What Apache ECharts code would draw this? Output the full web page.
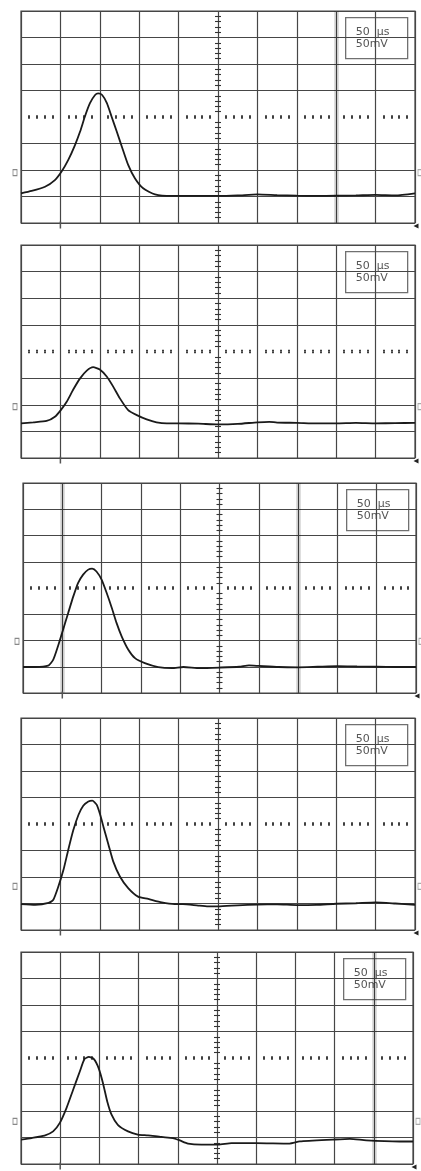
<!DOCTYPE html>
<html><head><meta charset="utf-8">
<script src="https://cdn.jsdelivr.net/npm/echarts@6/dist/echarts.min.js"></script>
<style>html,body{margin:0;padding:0;background:#fff}#c{width:421px;height:1171px}</style>
</head><body><div id="c"></div>
<script>
// ---- labels ----
const timeLabel = '50  µs';
const voltLabel = '50mV';

// ---- traces (x, y in screen divisions; 0 = graticule centre) ----
const trace1X = [-5, -4.73, -4.39, -4.14, -3.97, -3.80, -3.63, -3.50, -3.38, -3.25, -3.12, -3.04, -2.94, -2.82, -2.70, -2.57, -2.44, -2.28, -2.11, -1.90, -1.60, -1.18, -0.88, -0.5, 0, 0.5, 1.0, 1.5, 2.0, 2.5, 3.0, 3.5, 4.0, 4.5, 5.0];
const trace1Y = [-2.88, -2.79, -2.63, -2.38, -2.06, -1.62, -1.06, -0.55, 0.01, 0.52, 0.83, 0.89, 0.83, 0.52, 0.01, -0.55, -1.12, -1.81, -2.31, -2.69, -2.92, -2.98, -2.98, -2.98, -2.98, -2.96, -2.92, -2.95, -2.97, -2.98, -2.97, -2.96, -2.94, -2.96, -2.88];

const trace2X = [-5, -4.69, -4.35, -4.14, -3.99, -3.84, -3.67, -3.50, -3.33, -3.17, -3.0, -2.82, -2.66, -2.49, -2.28, -2.06, -1.81, -1.56, -1.30, -1.0, -0.5, 0, 0.5, 1.0, 1.3, 1.5, 2.0, 2.5, 3.0, 3.5, 4.0, 4.5, 5.0];
const trace2Y = [-2.70, -2.66, -2.61, -2.45, -2.20, -1.89, -1.42, -1.01, -0.72, -0.59, -0.68, -0.95, -1.32, -1.76, -2.20, -2.39, -2.55, -2.66, -2.70, -2.70, -2.71, -2.74, -2.72, -2.66, -2.64, -2.67, -2.68, -2.70, -2.70, -2.68, -2.70, -2.69, -2.68];

const trace3X = [-5, -4.70, -4.36, -4.23, -4.11, -3.98, -3.85, -3.72, -3.60, -3.47, -3.34, -3.24, -3.13, -3.0, -2.87, -2.74, -2.62, -2.49, -2.32, -2.15, -1.90, -1.56, -1.21, -0.92, -0.5, 0, 0.5, 0.75, 1.0, 1.5, 2.0, 2.5, 3.0, 3.5, 4.0, 4.5, 5.0];
const trace3Y = [-3.01, -3.01, -2.96, -2.73, -2.22, -1.59, -0.95, -0.32, 0.19, 0.51, 0.70, 0.74, 0.63, 0.32, -0.19, -0.76, -1.33, -1.84, -2.35, -2.67, -2.86, -3.01, -3.05, -3.01, -3.05, -3.03, -3.0, -2.95, -2.97, -3.01, -3.02, -3.0, -2.98, -2.99, -3.0, -3.01, -3.01];

const trace4X = [-5, -4.64, -4.30, -4.18, -4.05, -3.92, -3.80, -3.67, -3.54, -3.42, -3.29, -3.19, -3.08, -2.99, -2.91, -2.78, -2.66, -2.49, -2.28, -2.03, -1.77, -1.43, -1.10, -0.89, -0.5, -0.25, 0, 0.5, 1.0, 1.5, 2.0, 2.5, 3.0, 3.5, 4.0, 4.5, 5.0];
const trace4Y = [-3.02, -3.05, -2.98, -2.86, -2.35, -1.72, -0.97, -0.22, 0.35, 0.69, 0.85, 0.88, 0.73, 0.35, -0.09, -0.78, -1.41, -1.98, -2.42, -2.74, -2.83, -2.96, -3.02, -3.02, -3.08, -3.11, -3.11, -3.07, -3.04, -3.03, -3.06, -3.05, -3.01, -2.99, -2.96, -3.0, -3.05];

const trace5X = [-5, -4.73, -4.40, -4.18, -4.01, -3.84, -3.67, -3.50, -3.38, -3.27, -3.14, -3.02, -2.91, -2.80, -2.69, -2.53, -2.27, -2.02, -1.76, -1.42, -1.12, -0.95, -0.74, -0.40, 0.03, 0.37, 1.0, 1.85, 2.11, 2.95, 3.39, 3.81, 4.66, 5.0];
const trace5Y = [-3.08, -3.02, -2.93, -2.77, -2.45, -1.89, -1.20, -0.51, -0.04, 0.04, -0.04, -0.38, -0.94, -1.64, -2.14, -2.52, -2.77, -2.89, -2.92, -2.98, -3.02, -3.11, -3.23, -3.27, -3.27, -3.21, -3.21, -3.23, -3.15, -3.08, -3.05, -3.11, -3.15, -3.15];

// ---- graticule extras ----
const xRange = [-5, 5];
const yRange = [-4, 4];
const bandX = [[3], [], [-4, 2], [], [4]];          // faint scan bands on gridlines
const groundY = [-2.1, -2.07, -2.03, -2.35, -2.39];  // channel ground markers
const triggerX = -4;

const traces = [[trace1X, trace1Y], [trace2X, trace2Y], [trace3X, trace3Y], [trace4X, trace4Y], [trace5X, trace5Y]];

const panels = [
  {left: 21, top: 11, width: 394, height: 212},
  {left: 21, top: 245, width: 394, height: 213},
  {left: 23, top: 483, width: 393, height: 210},
  {left: 21, top: 718, width: 394, height: 212},
  {left: 21, top: 952, width: 392, height: 212}
];

const GRID = '#464646';
const grids = [], xAxes = [], yAxes = [], series = [], graphics = [];

panels.forEach((p, i) => {
  grids.push({left: p.left, top: p.top, width: p.width, height: p.height,
    show: true, borderColor: GRID, borderWidth: 1.2, backgroundColor: '#fff'});
  const base = {type: 'value', gridIndex: i, interval: 1, axisLabel: {show: false}};
  // main x
  xAxes.push(Object.assign({}, base, {min: xRange[0], max: xRange[1],
    axisLine: {show: false, onZero: false}, axisTick: {show: false},
    splitLine: {show: true, lineStyle: {color: GRID, width: 1.2}}}));
  // centre-line minor ticks (both sides)
  [false, true].forEach(inside => {
    xAxes.push(Object.assign({}, base, {min: xRange[0], max: xRange[1],
      axisLine: {show: true, onZero: true, onZeroAxisIndex: 3 * i, lineStyle: {color: 'rgba(0,0,0,0)'}},
      axisTick: {show: false, inside: inside},
      minorTick: {show: true, splitNumber: 5, length: 1.8, lineStyle: {color: '#2a2a2a', width: 1.8}},
      splitLine: {show: false}}));
  });
  const yColors = [GRID, GRID, GRID, GRID, 'rgba(0,0,0,0)', GRID, GRID, GRID, GRID];
  yAxes.push(Object.assign({}, base, {min: yRange[0], max: yRange[1],
    axisLine: {show: false, onZero: false}, axisTick: {show: false},
    splitLine: {show: true, lineStyle: {color: yColors, width: 1.2}}}));
  [false, true].forEach(inside => {
    yAxes.push(Object.assign({}, base, {min: yRange[0], max: yRange[1],
      axisLine: {show: true, onZero: true, onZeroAxisIndex: 3 * i, lineStyle: {color: 'rgba(0,0,0,0)'}},
      axisTick: {show: false, inside: inside},
      minorTick: {show: true, splitNumber: 5, length: 3, lineStyle: {color: '#333', width: 1.1}},
      splitLine: {show: false}}));
  });

  const tx = traces[i][0], ty = traces[i][1];
  series.push({
    type: 'line', xAxisIndex: 3 * i, yAxisIndex: 3 * i,
    data: tx.map((x, k) => [x, ty[k]]),
    showSymbol: false, smooth: 0.2, silent: true,
    lineStyle: {color: '#1a1a1a', width: 1.8},
    markLine: {silent: true, symbol: 'none', label: {show: false},
      lineStyle: {color: 'rgba(0,0,0,0.13)', width: 5, type: 'solid'},
      data: bandX[i].map(v => ({xAxis: v}))},
    markPoint: {silent: true, label: {show: false},
      data: [
        {coord: [xRange[0], groundY[i]], symbol: 'rect', symbolSize: [4, 6], symbolOffset: [-6, 0],
          itemStyle: {color: 'rgba(0,0,0,0)', borderColor: '#888', borderWidth: 1}},
        {coord: [xRange[1], groundY[i]], symbol: 'rect', symbolSize: [4, 6], symbolOffset: [5, 0],
          itemStyle: {color: 'rgba(0,0,0,0)', borderColor: '#aaa', borderWidth: 1}},
        {coord: [triggerX, yRange[0]], symbol: 'rect', symbolSize: [1.5, 7], symbolOffset: [0, 2],
          itemStyle: {color: '#555'}},
        {coord: [xRange[1], yRange[0]], symbol: 'triangle', symbolSize: 5, symbolRotate: 90, symbolOffset: [1, 3],
          itemStyle: {color: '#222'}}
      ]}
  });

  graphics.push({
    type: 'group', left: p.left + p.width - 70, top: p.top + 6,
    children: [
      {type: 'rect', shape: {x: 0, y: 0, width: 62, height: 41},
        style: {fill: '#fff', stroke: '#707070', lineWidth: 1.3}},
      {type: 'text', x: 10, y: 8,
        style: {text: timeLabel + '\n' + voltLabel, fontSize: 11, lineHeight: 12.6,
          fontFamily: 'DejaVu Sans', fill: '#555'}}
    ]
  });
});

const chart = echarts.init(document.getElementById('c'), null, {renderer: 'canvas'});
chart.setOption({
  animation: false,
  backgroundColor: '#fff',
  grid: grids, xAxis: xAxes, yAxis: yAxes, series: series, graphic: graphics
});
</script></body></html>
